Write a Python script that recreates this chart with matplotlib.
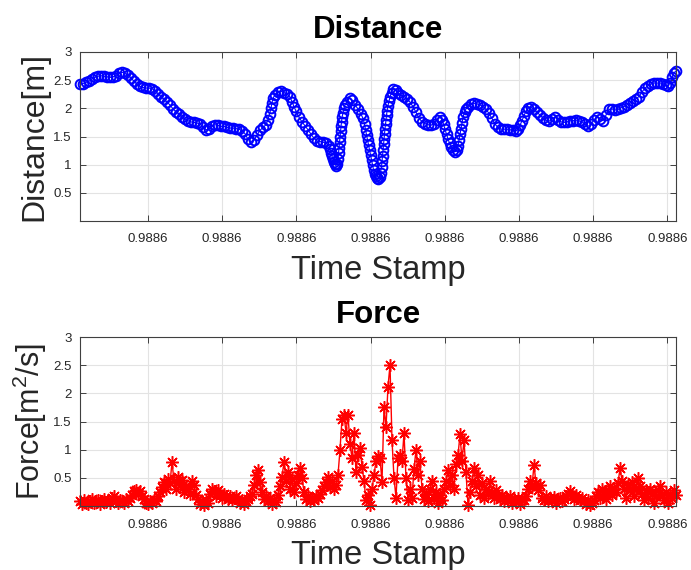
import matplotlib
matplotlib.use("Agg")
import matplotlib.pyplot as plt
import numpy as np

plt.rcParams['font.family'] = ['Liberation Sans', 'DejaVu Sans']
plt.rcParams['mathtext.fontset'] = 'custom'
plt.rcParams['mathtext.rm'] = 'Liberation Sans'
plt.rcParams['mathtext.it'] = 'Liberation Sans'

# ---------------- data ----------------
# time offsets of distance samples (arbitrary time units, same for both panels)
dist_time = [
    0, 3, 6, 9, 12, 15, 18, 21, 24, 27, 30, 33, 36, 39, 42, 45, 48, 51, 54, 57,
    60, 63, 66, 69, 72, 75, 78, 81, 84, 87, 90, 93, 96, 99, 102, 105, 108, 111, 114, 117,
    120, 123, 126, 129, 132, 135, 138, 141, 144, 147, 150, 153, 156, 159, 162, 165, 168, 171, 174, 177,
    180, 183, 186, 188, 189.5, 191, 192, 193, 195, 198, 201, 204, 207, 210, 212, 214, 216, 219, 222, 225,
    228, 231, 234, 237, 240, 243, 246, 249, 250, 251, 252, 253, 254, 255, 256, 257, 258, 258.5, 259, 259.5,
    260, 260.5, 261, 261.5, 262, 263, 264, 265, 267, 269.5, 272, 275, 278, 281, 283, 284.5, 285.5, 286.5, 287.5, 288.5,
    289.5, 290.5, 291.5, 292.5, 293.5, 294.5, 295.5, 296.5, 298, 299.5, 300.5, 301.5, 302, 302.5, 303, 303.5, 304, 304.5, 305, 305.5,
    306, 306.5, 307, 308, 309, 310, 311.5, 313, 315.5, 318, 321, 324, 327, 330, 333, 336, 339, 342, 345, 348,
    351, 354, 357, 360, 362, 363.5, 365, 366.5, 368, 369.5, 371, 373, 375, 377, 378, 379, 380, 381, 382, 383,
    384.5, 386, 388, 391, 394, 397, 400, 403, 406, 409, 412, 415, 418, 421, 424, 427, 430, 433, 436, 438,
    440, 442, 444, 446, 448, 451, 454, 457, 460, 463, 466, 469, 472, 475, 478, 481, 484, 487, 490, 493,
    496, 499, 502, 505, 508, 511, 514, 517, 520, 523, 526, 529, 532, 535, 538, 541, 544, 547, 550, 553,
    556, 559, 562, 565, 568, 571, 574, 577, 580, 583, 586, 588, 590, 592, 594, 595.5,
]
distance = [
    2.43, 2.44, 2.46, 2.48, 2.52, 2.55, 2.57, 2.58, 2.57, 2.56, 2.55, 2.56, 2.58, 2.62, 2.64, 2.62, 2.59, 2.54, 2.48, 2.43,
    2.39, 2.37, 2.36, 2.36, 2.35, 2.31, 2.26, 2.21, 2.16, 2.11, 2.06, 1.99, 1.94, 1.90, 1.85, 1.81, 1.78, 1.76, 1.75, 1.74,
    1.72, 1.67, 1.62, 1.63, 1.68, 1.71, 1.70, 1.68, 1.68, 1.66, 1.65, 1.65, 1.64, 1.63, 1.60, 1.55, 1.45, 1.41, 1.44, 1.52,
    1.61, 1.66, 1.71, 1.80, 1.90, 2.00, 2.10, 2.18, 2.24, 2.29, 2.30, 2.28, 2.25, 2.20, 2.12, 2.03, 1.95, 1.84, 1.76, 1.69,
    1.62, 1.54, 1.47, 1.42, 1.41, 1.40, 1.38, 1.33, 1.27, 1.21, 1.15, 1.10, 1.05, 1.01, 0.98, 1.02, 1.10, 1.20, 1.30, 1.40,
    1.50, 1.60, 1.68, 1.76, 1.84, 1.92, 2.00, 2.06, 2.12, 2.18, 2.14, 2.06, 1.99, 1.90, 1.82, 1.72, 1.62, 1.53, 1.44, 1.35,
    1.26, 1.17, 1.08, 0.99, 0.91, 0.84, 0.79, 0.76, 0.74, 0.78, 0.86, 0.96, 1.06, 1.16, 1.26, 1.36, 1.46, 1.55, 1.64, 1.72,
    1.80, 1.88, 1.95, 2.05, 2.13, 2.20, 2.28, 2.35, 2.32, 2.27, 2.23, 2.21, 2.17, 2.11, 2.03, 1.93, 1.83, 1.76, 1.73, 1.71,
    1.70, 1.73, 1.80, 1.84, 1.80, 1.72, 1.63, 1.54, 1.46, 1.38, 1.31, 1.26, 1.23, 1.26, 1.34, 1.44, 1.54, 1.64, 1.74, 1.84,
    1.93, 1.99, 2.03, 2.07, 2.09, 2.08, 2.06, 2.03, 1.98, 1.91, 1.82, 1.72, 1.66, 1.63, 1.63, 1.63, 1.62, 1.61, 1.60, 1.63,
    1.70, 1.78, 1.87, 1.95, 2.00, 2.02, 1.98, 1.93, 1.88, 1.83, 1.79, 1.77, 1.81, 1.84, 1.80, 1.76, 1.75, 1.76, 1.78, 1.78,
    1.79, 1.78, 1.75, 1.72, 1.68, 1.72, 1.80, 1.84, 1.81, 1.78, 1.88, 1.98, 1.99, 1.97, 1.98, 2.01, 2.03, 2.06, 2.09, 2.13,
    2.17, 2.21, 2.29, 2.36, 2.40, 2.43, 2.45, 2.45, 2.45, 2.44, 2.41, 2.40, 2.45, 2.55, 2.62, 2.66,
]

# force samples, uniformly spaced in time (2 time units apart, starting at 0)
force = [
    .08, .04, .10, .06, .03, .09, .12, .05, .08, .11,
    .04, .09, .13, .07, .10, .05, .14, .18, .09, .06,
    .11, .08, .05, .12, .09, .14, .20, .26, .29, .22,
    .27, .18, .12, .06, .03, .08, .05, .11, .09, .18,
    .25, .33, .42, .30, .48, .40, .78, .45, .30, .52,
    .38, .47, .25, .36, .30, .22, .44, .38, .20, .12,
    .04, .09, .02, .10, .06, .22, .30, .26, .18, .28,
    .20, .14, .21, .18, .12, .17, .10, .15, .18, .12,
    .06, .10, .04, .08, .12, .18, .22, .38, .55, .64,
    .42, .25, .12, .18, .08, .14, .03, .10, .07, .20,
    .35, .52, .78, .45, .60, .30, .48, .25, .40, .55,
    .67, .50, .25, .12, .18, .08, .14, .10, .18, .15,
    .22, .28, .35, .42, .52, .33, .45, .30, .38, .55,
    1.00, 1.55, 1.62, 1.30, 1.62, 1.10, .85, 1.30, .60, .90,
    1.03, .70, .45, .10, .20, .02, .30, .55, .80, .88,
    .85, .43, 1.75, 1.40, 2.12, 2.50, 1.17, .50, .15, .85,
    .90, .80, 1.29, .50, .10, .30, .15, .65, 1.00, .55,
    .80, .30, .12, .22, .08, .30, .45, .15, .25, .05,
    .20, .10, .30, .45, .64, .38, .55, .30, .75, .90,
    1.27, .80, 1.17, .60, .02, .25, .45, .67, .35, .55,
    .20, .40, .15, .30, .22, .45, .25, .15, .28, .18,
    .12, .20, .08, .15, .10, .18, .05, .12, .08, .15,
    .04, .12, .10, .18, .30, .45, .35, .73, .40, .28,
    .38, .15, .10, .18, .08, .14, .10, .16, .06, .12,
    .15, .08, .13, .18, .22, .26, .18, .12, .20, .15,
    .10, .14, .08, .04, .10, .02, .06, .10, .18, .25,
    .15, .30, .22, .12, .28, .35, .20, .30, .25, .40,
    .67, .45, .30, .15, .38, .28, .42, .18, .30, .50,
    .35, .22, .10, .28, .15, .30, .22, .05, .18, .28,
    .35, .20, .10, .25, .05, .22, .15, .28, .20,
]
force_time = np.arange(len(force)) * 2.0

x_tick_values = [68, 142.2, 216.4, 290.6, 364.8, 439, 513.2, 587.4]
x_tick_labels = ["0.9886"] * 8
y_ticks = [0.5, 1, 1.5, 2, 2.5, 3]
y_tick_labels = ["0.5", "1", "1.5", "2", "2.5", "3"]

# ---------------- figure ----------------
W, H = 691, 570
fig = plt.figure(figsize=(W / 100, H / 100), dpi=100)
ax1 = fig.add_axes([80 / W, 1 - 221 / H, 596 / W, 169 / H])
ax2 = fig.add_axes([80 / W, 1 - 506 / H, 596 / W, 169 / H])

axcol = '#262626'
for ax in (ax1, ax2):
    ax.set_xlim(0, 596)
    ax.set_ylim(0, 3)
    ax.set_xticks(x_tick_values)
    ax.set_xticklabels(x_tick_labels)
    ax.set_yticks(y_ticks)
    ax.set_yticklabels(y_tick_labels)
    ax.grid(True, color='#e3e3e3', linewidth=0.8)
    ax.set_axisbelow(True)
    ax.tick_params(direction='in', length=4, width=0.6, colors=axcol,
                   labelsize=9.5, top=True, right=True)
    ax.tick_params(axis='x', pad=9)
    ax.tick_params(axis='y', pad=6)
    for sp in ax.spines.values():
        sp.set_color('#404040')
        sp.set_linewidth(0.8)

ax1.plot(dist_time, distance, linestyle='-', linewidth=0.8, color=(0, 0, 1),
         marker='o', markersize=7, markerfacecolor='none',
         markeredgecolor=(0, 0, 1), markeredgewidth=1.4, clip_on=False)
ax2.plot(force_time, force, linestyle='-', linewidth=1.0, color=(1, 0, 0),
         marker=(8, 2, 0), markersize=9, markeredgecolor=(1, 0, 0),
         markeredgewidth=1.1, clip_on=False)

ax1.set_title('Distance', fontsize=22.5, fontweight='bold', pad=10)
ax2.set_title('Force', fontsize=22.5, fontweight='bold', pad=10)
ax1.set_ylabel('Distance[m]', fontsize=23, color=axcol, labelpad=3)
ax2.set_ylabel('Force[m$^{2}$/s]', fontsize=22, color=axcol, labelpad=3)
ax1.set_xlabel('Time Stamp', fontsize=23.5, color=axcol, labelpad=7)
ax2.set_xlabel('Time Stamp', fontsize=23.5, color=axcol, labelpad=7)

fig.savefig('out.png', dpi=100)
